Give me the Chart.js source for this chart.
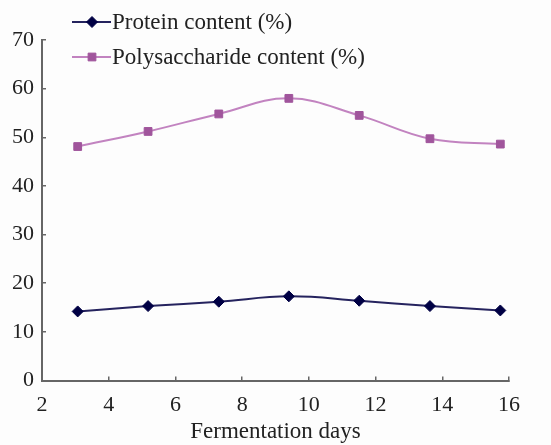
<!DOCTYPE html>
<html>
<head>
<meta charset="utf-8">
<script src="https://cdn.jsdelivr.net/npm/chart.js@4.4.1/dist/chart.umd.min.js"></script>
<style>
  html, body { margin: 0; padding: 0; background: #fdfdfd; }
  #wrap { width: 551px; height: 445px; position: relative; }
</style>
</head>
<body>
<div id="wrap"><canvas id="grafico"></canvas></div>
<script>
// dados do gráfico (posição em dias lida no eixo)
const dias = [3.07, 5.18, 7.30, 9.40, 11.51, 13.63, 15.74];
const proteina = [14.2, 15.3, 16.2, 17.3, 16.4, 15.3, 14.4];
const polissacarideo = [48.1, 51.2, 54.8, 58.0, 54.5, 49.7, 48.6];
const ticksY = [0, 10, 20, 30, 40, 50, 60, 70];
const ticksX = [2, 4, 6, 8, 10, 12, 14, 16];

const fonte = '"Liberation Serif", "Times New Roman", serif';

const series = [
    { label: 'Protein content (%)', valores: proteina, linha: '#25235e', ponto: '#000044', estilo: 'rectRot', raio: 5.5 },
    { label: 'Polysaccharide content (%)', valores: polissacarideo, linha: '#c283c0', ponto: '#a0559c', estilo: 'rect', raio: 5.5 }
];

// legenda empilhada no canto superior
const legendaPlugin = {
    id: 'legendaEmpilhada',
    afterDraw(chart) {
        const ctx = chart.ctx;
        ctx.save();
        series.forEach((s, i) => {
            const y = 22 + i * 35;
            ctx.strokeStyle = s.linha;
            ctx.lineWidth = 2;
            ctx.beginPath();
            ctx.moveTo(72, y);
            ctx.lineTo(111, y);
            ctx.stroke();
            ctx.fillStyle = s.ponto;
            ctx.strokeStyle = s.ponto;
            ctx.lineWidth = 1;
            Chart.helpers.drawPoint(ctx, { pointStyle: s.estilo, radius: s.raio, borderWidth: 1 }, 92, y);
            ctx.fillStyle = '#222';
            ctx.font = '23px ' + fonte;
            ctx.textBaseline = 'middle';
            ctx.textAlign = 'left';
            ctx.fillText(s.label, 112, y + 1);
        });
        ctx.restore();
    }
};

const ctxGrafico = document.getElementById('grafico').getContext('2d');

new Chart(ctxGrafico, {
    type: 'line',
    data: {
        datasets: series.map(s => ({
            label: s.label,
            data: dias.map((d, i) => ({ x: d, y: s.valores[i] })),
            borderColor: s.linha,
            borderWidth: 2,
            backgroundColor: s.ponto,
            pointBackgroundColor: s.ponto,
            pointBorderColor: s.ponto,
            pointStyle: s.estilo,
            pointRadius: s.raio,
            pointBorderWidth: 1,
            tension: 0.4,
            fill: false
        }))
    },
    options: {
        responsive: true,
        maintainAspectRatio: false,
        animation: false,
        layout: { padding: { top: 40, right: 42, left: 0, bottom: 0 } },
        plugins: {
            legend: { display: false },
            tooltip: { enabled: false }
        },
        scales: {
            x: {
                type: 'linear',
                min: 2,
                max: 16,
                afterBuildTicks: axis => { axis.ticks = ticksX.map(v => ({ value: v })); },
                afterFit: axis => { axis.height = 64.5; },
                grid: { drawOnChartArea: false, tickLength: -4, color: '#666', lineWidth: 1.5 },
                border: { color: '#666', width: 2 },
                ticks: { padding: 16, color: '#222', font: { family: fonte, size: 22 } },
                title: {
                    display: true,
                    text: 'Fermentation days',
                    color: '#222',
                    font: { family: fonte, size: 23 },
                    padding: { top: 0, bottom: -1 }
                }
            },
            y: {
                min: 0,
                max: 70,
                afterBuildTicks: axis => { axis.ticks = ticksY.map(v => ({ value: v })); },
                afterFit: axis => { axis.width = 42; },
                grid: { drawOnChartArea: false, tickLength: -4, color: '#666', lineWidth: 1.5 },
                border: { color: '#666', width: 2 },
                ticks: { padding: 12, color: '#222', font: { family: fonte, size: 22 } }
            }
        }
    },
    plugins: [legendaPlugin]
});
</script>
</body>
</html>
